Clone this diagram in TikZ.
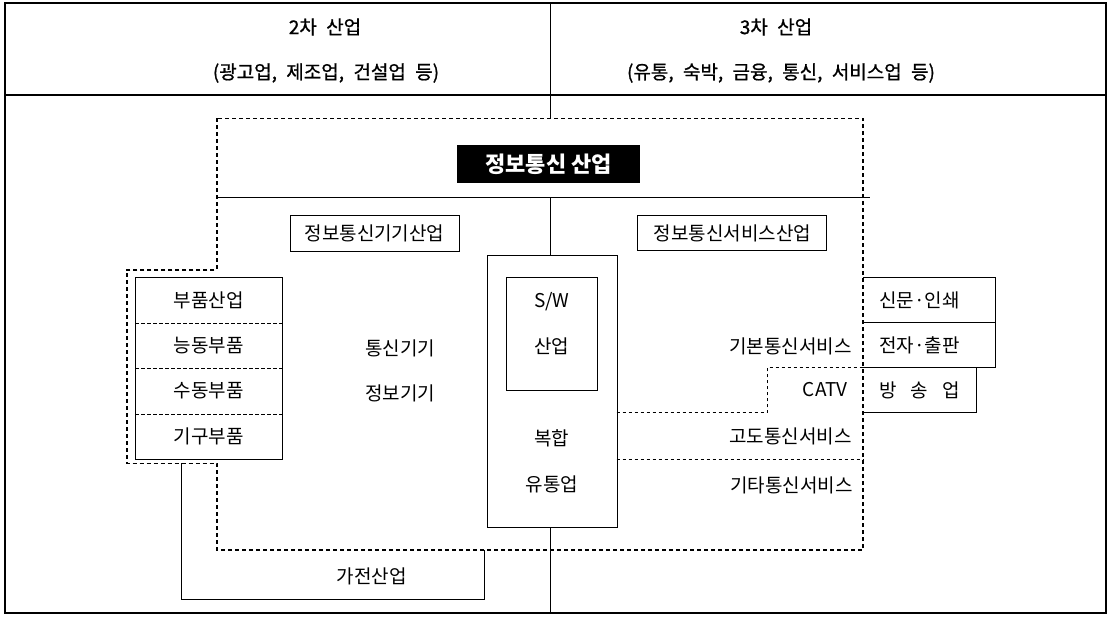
\documentclass[tikz,border=0pt]{standalone}
\usepackage{fontspec}
\setmainfont{Noto Sans CJK KR}
\newfontfamily\headfont{Noto Sans CJK KR}[FakeBold=0.9, WordSpace=2.2]
\begin{document}
\begin{tikzpicture}[x=1pt,y=-1pt,
  body/.style={font=\fontsize{19}{22}\selectfont, inner sep=0pt},
  head/.style={font=\headfont\fontsize{19}{22}\selectfont, inner sep=0pt},
  boxed/.style={draw, line width=1pt, inner sep=0pt},
  solidline/.style={line width=1pt},
  framel/.style={line width=1.3pt},
  bigdot/.style={line width=1.6pt, dash pattern=on 4pt off 3pt},
  thindash/.style={line width=0.8pt, dash pattern=on 3.5pt off 2.5pt}]
\useasboundingbox (0,0) rectangle (1110,616);

% frame and header
\coordinate (fTL) at (5,3);
\coordinate (fBR) at (1106,613);
\draw[framel] (fTL) rectangle (fBR);
\coordinate (hL) at (5,95);
\coordinate (hR) at (1106,95);
\draw[framel] (hL) -- (hR);

\node[head] (h2) at (325,27) {2차 산업};
\node[head] (h2s) at (326,73) {(광고업, 제조업, 건설업 등)};
\node[head] (h3) at (776,27) {3차 산업};
\node[head] (h3s) at (781,73) {(유통, 숙박, 금융, 통신, 서비스업 등)};

% big dotted region
\coordinate (d1) at (216.7,118.3);
\coordinate (d2) at (216.7,270);
\coordinate (d3) at (126.7,270);
\coordinate (d4) at (126.7,463.3);
\coordinate (d5) at (216.7,463.3);
\coordinate (d6) at (216.7,550);
\coordinate (d7) at (863,550);
\coordinate (d8) at (863,118.3);
\draw[bigdot] (d1) -- (d2) -- (d3) -- (d4) -- (d5) -- (d6) -- (d7) -- (d8) -- cycle;

% divider
\coordinate (vTop) at (550,3);
\coordinate (vD) at (550,118.3);
\coordinate (vBot) at (550,613);
\draw[solidline] (vTop) -- (vD);

% title
\node[fill=black, text=white, font=\bfseries\fontsize{22}{26}\selectfont,
      minimum width=182.7, minimum height=37.7, inner sep=0pt] (title) at (548.7,163.9) {정보통신 산업};

% horizontal line
\coordinate (lnL) at (216.7,197.7);
\coordinate (lnR) at (870,197.7);
\draw[solidline] (lnL) -- (lnR);
\coordinate (lnM) at (550,197.7);

% category boxes
\node[boxed, body, minimum width=169, minimum height=36] (gigi) at (374.5,233) {정보통신기기산업};
\node[boxed, body, minimum width=188.7, minimum height=35.7] (svc) at (732.3,232.9) {정보통신서비스산업};

% center column
\node[boxed, minimum width=130, minimum height=272.3] (mid) at (552,391.2) {};
\draw[solidline] (lnM) -- (lnM |- mid.north);
\draw[solidline] (mid.south -| vBot) -- (vBot);
\node[boxed, minimum width=91.7, minimum height=113.4] (sw) at (551.9,334) {};
\node[body] (swt) at (551.9,301.7) {S/W};
\node[body] (swi) at (551.9,346.7) {산업};
\node[body] (bh) at (551.9,438.3) {복합};
\node[body] (yt) at (551.9,484) {유통업};

% left parts box
\node[boxed, minimum width=147.7, minimum height=181.6] (parts) at (208.85,368.5) {};
\coordinate (s1) at (135,323.3);
\coordinate (s2) at (135,368.3);
\coordinate (s3) at (135,414);
\draw[thindash] (s1) -- (s1 -| parts.east);
\draw[thindash] (s2) -- (s2 -| parts.east);
\draw[thindash] (s3) -- (s3 -| parts.east);
\node[body] (p1) at (208.85,300.5) {부품산업};
\node[body] (p2) at (208.85,345.8) {능동부품};
\node[body] (p3) at (208.85,391) {수동부품};
\node[body] (p4) at (208.85,436.6) {기구부품};

\node[body] (tg) at (400,348) {통신기기};
\node[body] (jg) at (400,393) {정보기기};

% home appliance
\coordinate (g1) at (181.7,463.3);
\coordinate (g2) at (181.7,599.3);
\coordinate (g3) at (484,599.3);
\coordinate (g4) at (484,550);
\draw[solidline] (g1) -- (g2) -- (g3) -- (g4);
\node[body] (ga) at (371.7,576.7) {가전산업};

% service texts
\node[body, anchor=east] (basic) at (852,346.7) {기본통신서비스};
\node[body, anchor=east] (catv) at (848,390) {CATV};
\node[body, anchor=east] (adv) at (852,436.7) {고도통신서비스};
\node[body, anchor=east] (etc) at (853,485) {기타통신서비스};

% CATV dashed path
\coordinate (c1) at (616.7,412.3);
\coordinate (c2) at (767.7,412.3);
\coordinate (c3) at (767.7,367.3);
\coordinate (c4) at (863,367.3);
\draw[thindash] (c1) -- (c2) -- (c3) -- (c4);
\coordinate (e1) at (616.7,459);
\coordinate (e2) at (863,459);
\draw[thindash] (e1) -- (e2);

% right boxes
\coordinate (r1) at (863,277.3);
\coordinate (r2) at (995.3,277.3);
\coordinate (r3) at (995.3,367.3);
\coordinate (r4) at (863,322.7);
\coordinate (r5) at (995.3,322.7);
\coordinate (r6) at (976.7,367.3);
\coordinate (r7) at (976.7,412.3);
\coordinate (r8) at (863,412.3);
\draw[solidline] (r1) -- (r2) -- (r3) -- (c4);
\draw[solidline] (r4) -- (r5);
\draw[solidline] (r6) -- (r7) -- (r8);
\node[body] (sm) at (919.5,300) {신문·인쇄};
\node[body] (jj) at (919.5,345) {전자·출판};
\node[body] (bs) at (919.5,390) {방\hspace{14pt}송\hspace{14pt}업};
\end{tikzpicture}
\end{document}
